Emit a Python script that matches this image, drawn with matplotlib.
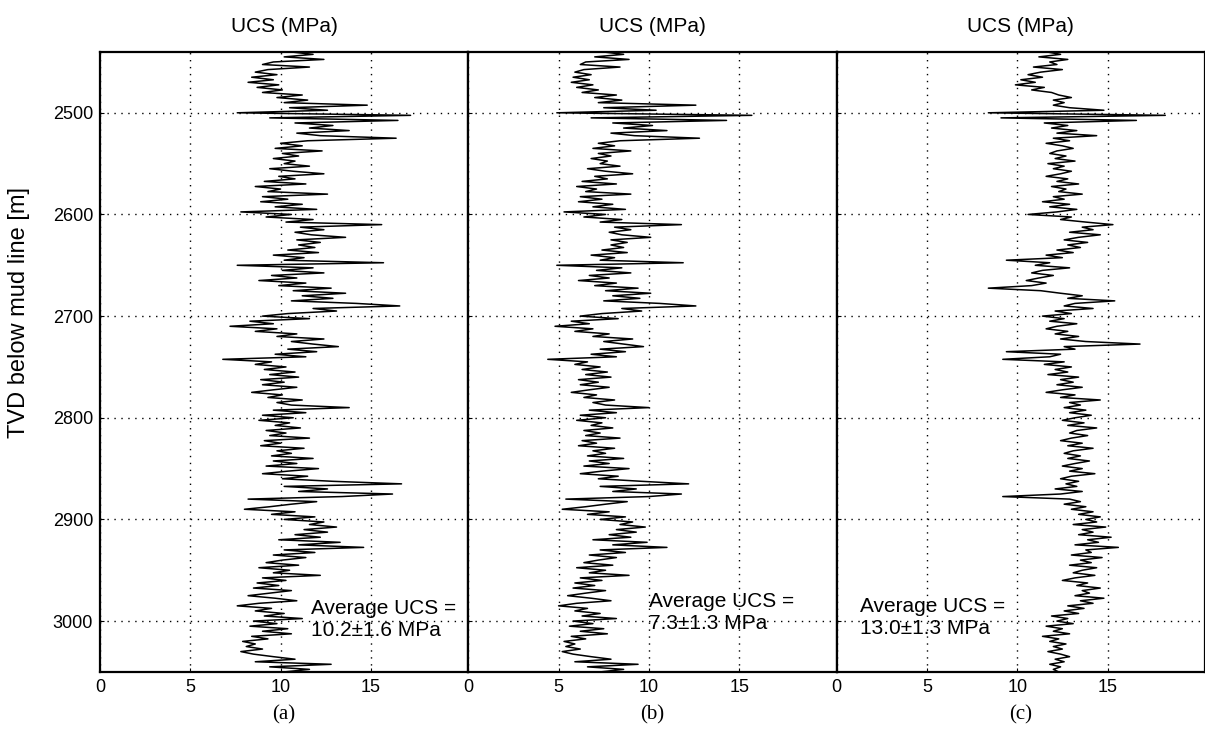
import numpy as np
import matplotlib
matplotlib.use("Agg")
import matplotlib.pyplot as plt

plt.rcParams["font.family"] = ["Liberation Sans", "DejaVu Sans"]

# UCS logs (MPa), sampled every 2.5 m from 2440 m to 3050 m TVD
ucs_a = [
    10.5, 11.8, 10.2, 12.4, 9.6, 9.0, 11.6, 9.3, 8.6, 9.8,
    8.4, 9.6, 8.2, 9.9, 8.7, 10.1, 9.0, 11.2, 9.8, 11.5,
    10.2, 14.8, 10.5, 12.6, 7.6, 17.2, 9.4, 16.5, 10.8, 12.9,
    11.6, 13.8, 10.9, 12.2, 16.4, 11.5, 10.0, 11.2, 9.7, 12.3,
    10.1, 11.0, 9.6, 10.8, 10.2, 11.6, 9.4, 10.7, 12.4, 9.9,
    10.8, 9.1, 11.4, 8.6, 10.0, 9.3, 12.6, 9.0, 10.4, 8.9,
    11.2, 9.7, 12.0, 7.8, 10.6, 9.2, 11.8, 10.3, 15.6, 11.1,
    12.4, 10.8, 11.7, 13.6, 10.9, 12.2, 11.0, 11.9, 10.4, 12.1,
    9.6, 11.3, 10.2, 15.7, 7.6, 11.8, 10.1, 12.4, 9.5, 10.9,
    8.8, 11.4, 9.9, 12.8, 10.7, 13.6, 11.2, 12.9, 10.6, 14.2,
    16.6, 11.8, 13.1, 10.4, 9.0, 11.6, 8.3, 9.6, 7.2, 9.8,
    8.6, 10.9, 9.8, 12.4, 10.6, 11.8, 13.2, 10.4, 12.0, 9.7,
    11.4, 6.8, 9.5, 8.6, 10.3, 9.1, 10.8, 9.4, 11.0, 8.9,
    10.2, 9.0, 10.9, 9.6, 8.4, 10.1, 9.3, 11.2, 9.8, 10.6,
    13.8, 9.6, 11.4, 9.0, 10.7, 8.8, 10.5, 9.7, 11.1, 9.2,
    10.3, 9.4, 11.6, 9.1, 10.0, 8.9, 11.3, 9.8, 10.6, 9.5,
    11.8, 9.6, 10.9, 9.2, 12.1, 10.4, 9.0, 11.5, 10.1, 12.9,
    16.7, 10.2, 12.6, 11.0, 16.2, 13.4, 8.2, 12.0, 10.6, 9.4,
    8.0, 10.8, 9.5, 11.9, 10.2, 12.4, 11.6, 13.1, 11.3, 12.6,
    10.8, 12.2, 9.9, 13.3, 11.0, 14.6, 10.2, 11.9, 9.6, 11.4,
    10.1, 9.2, 11.0, 8.8, 10.5, 9.6, 12.2, 9.0, 10.3, 8.7,
    9.9, 8.5, 10.6, 9.4, 8.2, 9.7, 10.9, 8.8, 7.6, 9.5,
    8.6, 10.2, 9.1, 11.2, 8.5, 9.8, 8.3, 10.4, 9.0, 10.6,
    8.4, 9.3, 7.9, 8.6, 8.1, 9.0, 7.8, 8.5, 9.6, 10.8,
    8.6, 12.8, 9.4, 11.6, 10.2,
]

ucs_b = [
    7.4, 8.6, 7.0, 8.9, 6.5, 6.2, 8.4, 6.4, 5.9, 6.8,
    5.8, 6.7, 5.7, 6.9, 6.0, 7.2, 6.3, 8.2, 7.0, 8.5,
    7.2, 12.6, 7.5, 10.4, 4.9, 15.7, 6.8, 14.3, 8.0, 10.2,
    8.6, 11.0, 7.9, 9.2, 12.8, 8.4, 7.2, 8.1, 6.9, 9.0,
    7.2, 7.9, 6.8, 7.7, 7.3, 8.4, 6.6, 7.6, 9.1, 7.0,
    7.7, 6.3, 8.2, 6.0, 7.1, 6.5, 9.0, 6.2, 7.4, 6.1,
    8.0, 6.9, 8.7, 5.3, 7.6, 6.4, 8.5, 7.3, 11.8, 8.1,
    9.0, 7.8, 8.5, 10.1, 7.9, 8.8, 7.9, 8.6, 7.4, 8.8,
    6.8, 8.1, 7.3, 11.9, 4.9, 8.5, 7.1, 9.0, 6.7, 7.8,
    6.1, 8.2, 7.0, 9.4, 7.6, 10.1, 8.0, 9.5, 7.5, 10.6,
    12.6, 8.5, 9.6, 7.4, 6.2, 8.3, 5.7, 6.7, 4.8, 6.9,
    5.9, 7.8, 6.9, 9.1, 7.5, 8.6, 9.7, 7.3, 8.7, 6.8,
    8.2, 4.4, 6.6, 5.9, 7.3, 6.3, 7.7, 6.5, 7.9, 6.1,
    7.2, 6.2, 7.8, 6.7, 5.7, 7.1, 6.4, 8.1, 6.9, 7.6,
    10.0, 6.7, 8.2, 6.2, 7.6, 6.0, 7.4, 6.8, 8.0, 6.4,
    7.3, 6.5, 8.4, 6.3, 7.1, 6.1, 8.1, 6.9, 7.6, 6.6,
    8.6, 6.7, 7.8, 6.4, 8.9, 7.4, 6.2, 8.3, 7.2, 9.6,
    12.2, 7.3, 9.3, 8.0, 11.8, 10.0, 5.4, 8.8, 7.6, 6.5,
    5.2, 7.8, 6.6, 8.7, 7.3, 9.1, 8.4, 9.8, 8.2, 9.3,
    7.8, 9.0, 6.9, 9.9, 8.0, 11.0, 7.3, 8.7, 6.7, 8.2,
    7.2, 6.4, 8.0, 6.0, 7.6, 6.7, 8.9, 6.2, 7.4, 5.9,
    7.0, 5.8, 7.6, 6.5, 5.5, 6.8, 7.9, 6.0, 5.0, 6.6,
    5.9, 7.3, 6.3, 8.2, 5.8, 6.9, 5.6, 7.5, 6.2, 7.7,
    5.7, 6.5, 5.3, 5.9, 5.4, 6.2, 5.2, 5.8, 6.8, 7.9,
    5.9, 9.4, 6.6, 8.6, 7.3,
]

ucs_c = [
    11.6, 12.4, 11.2, 12.8, 11.8, 12.2, 10.9, 12.5, 11.3, 10.6,
    11.4, 10.2, 11.0, 9.9, 11.5, 10.8, 11.9, 12.3, 13.0, 12.0,
    12.6, 12.0, 12.9, 14.8, 8.4, 18.2, 9.1, 16.6, 11.5, 12.8,
    11.9, 13.3, 12.2, 14.4, 12.0, 12.9, 11.6, 12.5, 13.1, 12.2,
    11.8, 12.7, 12.1, 13.2, 11.7, 12.6, 12.0, 13.0, 12.4, 11.6,
    12.8, 12.2, 13.4, 11.9, 12.7, 12.3, 13.6, 12.0, 12.6, 11.4,
    12.9, 11.8, 13.3, 12.2, 10.6, 13.0, 12.4, 13.8, 15.3, 13.6,
    14.2, 12.9, 14.6, 13.4, 12.6, 13.9, 12.8, 13.5, 12.2, 13.1,
    11.6, 12.5, 9.4, 11.8, 11.0, 12.9, 11.4, 10.8, 12.0, 11.2,
    10.5, 11.6, 10.8, 8.4, 11.3, 12.4, 13.6, 12.8, 15.4, 13.2,
    12.6, 14.2, 12.1, 13.0, 11.4, 12.6, 11.8, 13.3, 12.2, 11.6,
    12.8, 12.1, 13.4, 12.4, 13.8, 16.8, 12.6, 13.2, 9.4, 12.4,
    11.8, 9.2, 12.6, 11.5, 13.0, 12.1, 12.8, 11.7, 13.4, 12.4,
    13.1, 12.2, 13.6, 12.5, 11.6, 13.2, 12.4, 14.6, 12.9, 13.5,
    12.6, 13.8, 12.9, 14.1, 13.2, 12.5, 13.7, 12.8, 14.4, 13.3,
    12.9, 13.9, 13.0, 12.4, 13.6, 12.8, 14.2, 13.1, 12.6, 13.5,
    12.8, 14.0, 13.2, 12.5, 13.6, 12.9, 14.3, 13.0, 12.4, 13.4,
    12.7, 13.3, 12.1, 13.6, 12.4, 9.2, 12.9, 13.5, 12.6, 13.8,
    13.0, 14.2, 13.4, 14.6, 13.8, 14.4, 13.1, 14.9, 13.6, 14.2,
    13.4, 15.2, 13.9, 14.5, 13.2, 15.6, 13.8, 14.1, 13.0, 14.7,
    13.5, 14.1, 12.9, 14.4, 13.6, 13.1, 14.3, 13.2, 12.5, 13.9,
    13.3, 14.6, 13.6, 14.0, 13.2, 14.8, 13.5, 14.2, 12.8, 13.7,
    12.6, 13.4, 11.9, 12.8, 12.2, 13.1, 11.6, 12.5, 12.0, 12.9,
    11.4, 12.3, 11.8, 12.7, 12.0, 12.5, 11.7, 12.4, 12.9, 12.1,
    12.6, 11.8, 12.4, 12.0, 12.3,
]

logs = [ucs_a, ucs_b, ucs_c]
panel_labels = ["(a)", "(b)", "(c)"]
avg_text = ["Average UCS =\n10.2\u00b11.6 MPa",
            "Average UCS =\n7.3\u00b11.3 MPa",
            "Average UCS =\n13.0\u00b11.3 MPa"]
avg_pos = [(11.7, 2998), (10.0, 2992), (1.3, 2996)]
depth_top, depth_bot = 2440, 3050

fig = plt.figure(figsize=(12.05, 7.4), dpi=100)
left, bottom, height = 0.083, 0.092, 0.838
width = (1.0 - left) / 3

for i, vals in enumerate(logs):
    ax = fig.add_axes([left + i * width, bottom, width, height])
    depth = np.linspace(depth_top, depth_bot, len(vals))
    ax.plot(vals, depth, color="black", lw=1.1)
    ax.set_xlim(0, 20.4)
    ax.set_ylim(depth_bot, depth_top)
    ax.set_xticks([0, 5, 10, 15])
    ax.set_yticks([2500, 2600, 2700, 2800, 2900, 3000])
    ax.grid(True, linestyle=(0, (1, 4)), color="black", lw=1.0)
    ax.tick_params(direction="in", length=3, labelsize=13, pad=5)
    for s in ax.spines.values():
        s.set_linewidth(1.6)
    ax.set_title("UCS (MPa)", fontsize=15, pad=14)
    if i == 0:
        ax.set_ylabel("TVD below mud line [m]", fontsize=17)
        ax.yaxis.set_label_coords(-0.19, 0.58)
    else:
        ax.tick_params(labelleft=False)
    ax.text(avg_pos[i][0], avg_pos[i][1], avg_text[i], fontsize=15,
            va="center", ha="left", linespacing=1.2)
    ax.text(0.5, -0.07, panel_labels[i], transform=ax.transAxes,
            ha="center", va="center", fontsize=15, family="Liberation Serif")

fig.savefig("out.png", dpi=100)
